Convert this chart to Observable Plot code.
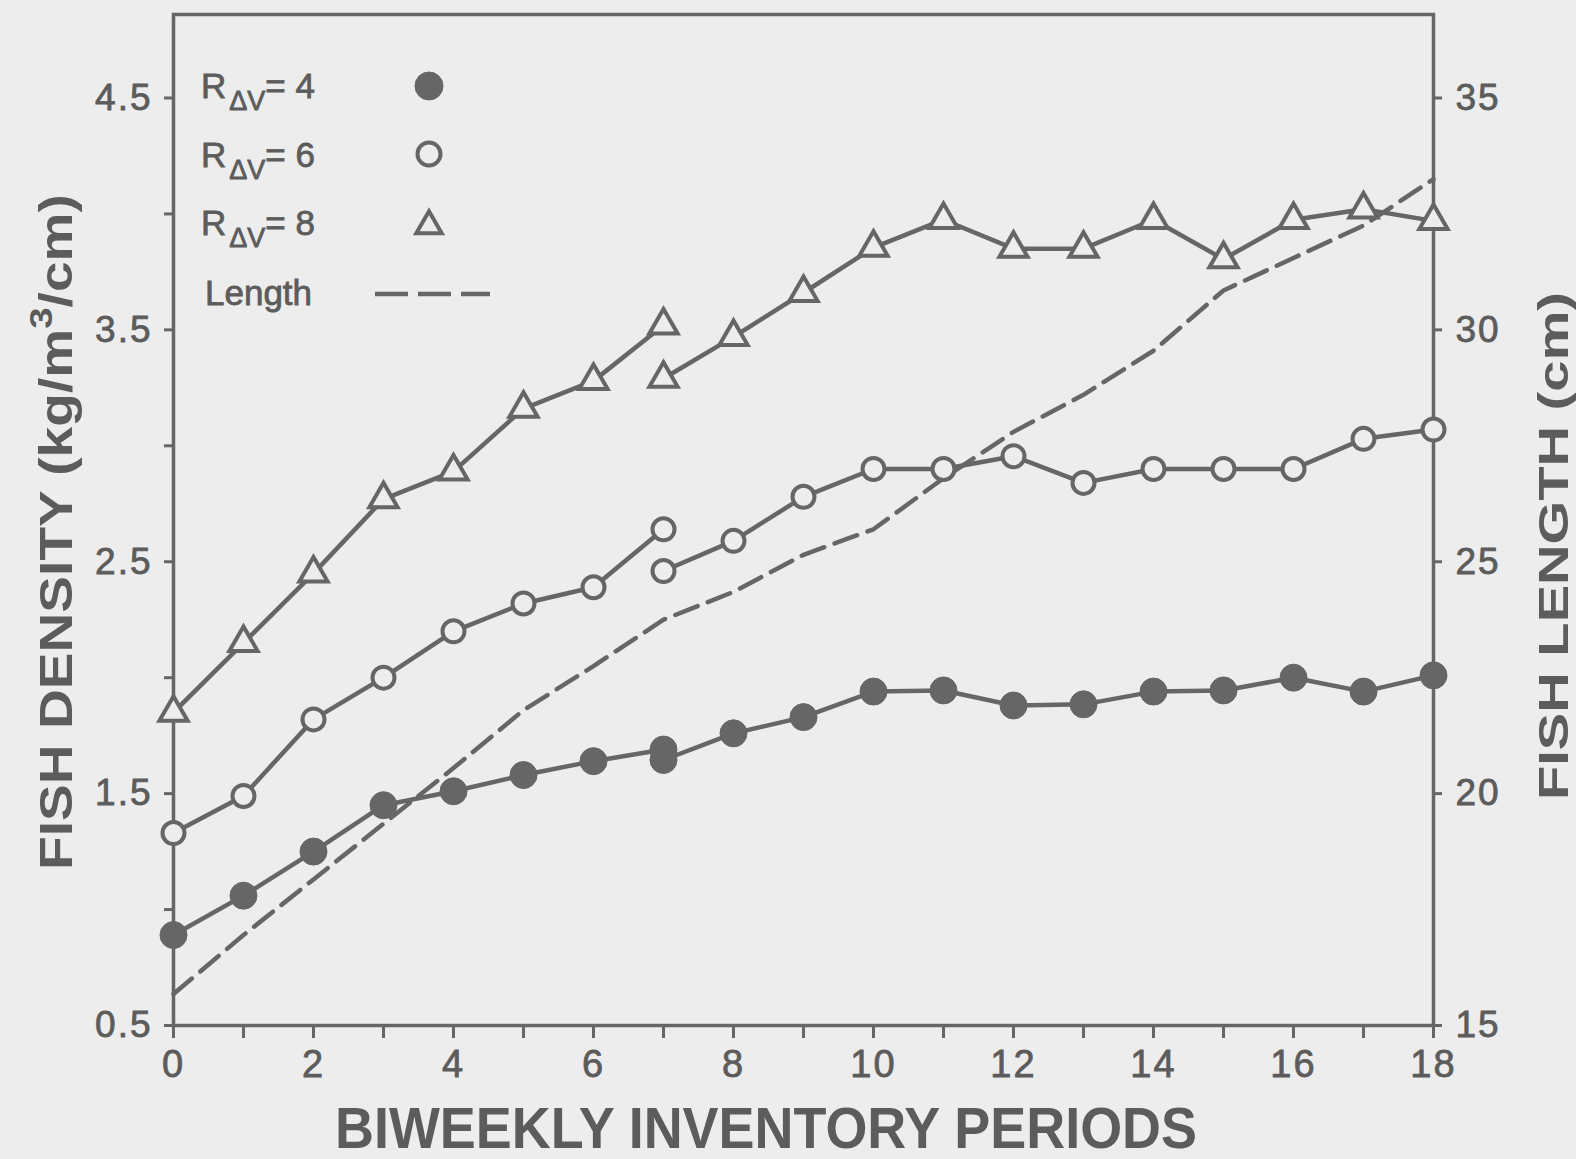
<!DOCTYPE html>
<html>
<head>
<meta charset="utf-8">
<script src="https://cdn.jsdelivr.net/npm/d3@7"></script>
<script src="https://cdn.jsdelivr.net/npm/@observablehq/plot@0.6"></script>
<style>
  html, body { margin: 0; padding: 0; background: #ededed; }
  #chart { width: 1576px; height: 1159px; position: relative; }
</style>
</head>
<body>
<div id="chart"></div>
<script>
// ---- data ----
const periodsA = [0, 1, 2, 3, 4, 5, 6, 7];
const periodsB = [7, 8, 9, 10, 11, 12, 13, 14, 15, 16, 17, 18];
const periodsAll = [0, 1, 2, 3, 4, 5, 6, 7, 8, 9, 10, 11, 12, 13, 14, 15, 16, 17, 18];

// R_ΔV = 4 (filled circles), fish density kg/m3/cm
const r4A = [0.89, 1.06, 1.25, 1.45, 1.51, 1.58, 1.64, 1.69];
const r4B = [1.645, 1.76, 1.83, 1.94, 1.945, 1.88, 1.885, 1.94, 1.945, 2.0, 1.94, 2.01];
// R_ΔV = 6 (open circles)
const r6A = [1.33, 1.49, 1.82, 2.00, 2.20, 2.32, 2.39, 2.64];
const r6B = [2.46, 2.59, 2.78, 2.90, 2.90, 2.955, 2.84, 2.90, 2.90, 2.90, 3.03, 3.07];
// R_ΔV = 8 (open triangles)
const r8A = [1.85, 2.15, 2.45, 2.77, 2.89, 3.16, 3.28, 3.52];
const r8B = [3.29, 3.47, 3.66, 3.855, 3.975, 3.85, 3.85, 3.975, 3.805, 3.975, 4.02, 3.97];
// Fish length (cm), right axis
const lengthCm = [15.68, 16.95, 18.15, 19.35, 20.55, 21.8, 22.75, 23.75, 24.35, 25.15, 25.7, 26.8, 27.8, 28.6, 29.55, 30.85, 31.55, 32.25, 33.25];

const leftTicks = [0.5, 1, 1.5, 2, 2.5, 3, 3.5, 4, 4.5];
const leftLabels = ["0.5", "", "1.5", "", "2.5", "", "3.5", "", "4.5"];
const rightTickLabels = [15, 20, 25, 30, 35];
const xTicks = [0, 1, 2, 3, 4, 5, 6, 7, 8, 9, 10, 11, 12, 13, 14, 15, 16, 17, 18];

const legendLabels = ["4", "6", "8"];

// ---- helpers ----
const ink = "#666666";
const textInk = "#5c5c5c";
const bg = "#ededed";
const toDensity = L => 0.5 + (L - rightTickLabels[0]) / 5; // 15 cm ↔ 0.5, 35 cm ↔ 4.5
const rightTicks = rightTickLabels.map(toDensity);

const seg = (xs, ys) => xs.map((x, i) => ({x, y: ys[i]}));
const s4A = seg(periodsA, r4A), s4B = seg(periodsB, r4B);
const s6A = seg(periodsA, r6A), s6B = seg(periodsB, r6B);
const s8A = seg(periodsA, r8A), s8B = seg(periodsB, r8B);
const lenRows = periodsAll.map((x, i) => ({x, L: lengthCm[i]}));

const W = 1576, H = 1159;

const svg = Plot.plot({
  width: W,
  height: H,
  marginLeft: 173,
  marginRight: 143,
  marginTop: 14,
  marginBottom: 134,
  style: {background: bg, color: ink, fontFamily: "'Liberation Sans', Arial, sans-serif"},
  x: {domain: [0, 18], axis: null},
  y: {domain: [0.5, 4.86], axis: null},
  marks: [
    Plot.axisX({ticks: xTicks, tickFormat: d => (d % 2 === 0 ? String(d) : ""), tickSize: 13, tickPadding: 12, fontSize: 38, stroke: ink, strokeWidth: 3, label: null}),
    Plot.axisY({anchor: "left", ticks: leftTicks, tickFormat: d => leftLabels[leftTicks.indexOf(d)], tickSize: 9, tickPadding: 12, fontSize: 37, stroke: ink, strokeWidth: 3, label: null}),
    Plot.axisY({anchor: "right", ticks: rightTicks, tickFormat: d => String(rightTickLabels[rightTicks.indexOf(d)]), tickSize: 8, tickPadding: 14, fontSize: 37, stroke: ink, strokeWidth: 3, label: null}),
    Plot.frame({stroke: ink, strokeWidth: 3.5}),
    Plot.line(lenRows, {x: "x", y: d => toDensity(d.L), stroke: ink, strokeWidth: 4.5, strokeDasharray: "24,11"}),
    Plot.line(s4A, {x: "x", y: "y", stroke: ink, strokeWidth: 4.5}),
    Plot.line(s4B, {x: "x", y: "y", stroke: ink, strokeWidth: 4.5}),
    Plot.line(s6A, {x: "x", y: "y", stroke: ink, strokeWidth: 4.5}),
    Plot.line(s6B, {x: "x", y: "y", stroke: ink, strokeWidth: 4.5}),
    Plot.line(s8A, {x: "x", y: "y", stroke: ink, strokeWidth: 4.5}),
    Plot.line(s8B, {x: "x", y: "y", stroke: ink, strokeWidth: 4.5}),
    Plot.dot(s4A.concat(s4B), {x: "x", y: "y", r: 13.5, fill: ink, stroke: ink, strokeWidth: 1}),
    Plot.dot(s6A.concat(s6B), {x: "x", y: "y", r: 11, fill: bg, stroke: ink, strokeWidth: 4}),
    Plot.dot(s8A.concat(s8B), {x: "x", y: "y", symbol: "triangle", r: 10.5, fill: bg, stroke: ink, strokeWidth: 4})
  ]
});

const root = d3.select(svg);
// tick label styling (slightly heavier, letter-spaced like the scan)
root.selectAll("text")
  .attr("fill", textInk)
  .attr("stroke", textInk)
  .attr("stroke-width", 0.8)
  .style("letter-spacing", "2px");

const font = "'Liberation Sans', Arial, sans-serif";

// Left axis title
const lt = root.append("text")
  .attr("transform", "translate(72,532) rotate(-90)")
  .attr("text-anchor", "middle")
  .attr("font-family", font)
  .attr("font-weight", "bold")
  .attr("font-size", 46)
  .attr("fill", textInk)
  .attr("textLength", 676)
  .attr("lengthAdjust", "spacingAndGlyphs");
lt.append("tspan").text("FISH DENSITY (kg/m");
lt.append("tspan").attr("dy", -20).attr("font-size", 32).text("3");
lt.append("tspan").attr("dy", 20).text("/cm)");

// Right axis title
root.append("text")
  .attr("transform", "translate(1568,546) rotate(-90)")
  .attr("text-anchor", "middle")
  .attr("font-family", font)
  .attr("font-weight", "bold")
  .attr("font-size", 42)
  .attr("fill", textInk)
  .attr("textLength", 508)
  .attr("lengthAdjust", "spacingAndGlyphs")
  .text("FISH LENGTH (cm)");

// Bottom axis title
root.append("text")
  .attr("x", 335)
  .attr("y", 1148)
  .attr("text-anchor", "start")
  .attr("font-family", font)
  .attr("font-weight", "bold")
  .attr("font-size", 58)
  .attr("fill", textInk)
  .attr("textLength", 862)
  .attr("lengthAdjust", "spacingAndGlyphs")
  .text("BIWEEKLY INVENTORY PERIODS");

// Legend
const lg = root.append("g")
  .attr("font-family", font)
  .attr("text-anchor", "start")
  .attr("fill", textInk)
  .attr("stroke", textInk)
  .attr("stroke-width", 0.8);
const rowBase = [98, 167, 235];
legendLabels.forEach((lab, i) => {
  const t = lg.append("text").attr("x", 201).attr("y", rowBase[i]).attr("font-size", 35);
  t.append("tspan").text("R");
  t.append("tspan").attr("dy", 12).attr("dx", 3).attr("font-size", 27).text("ΔV");
  t.append("tspan").attr("dy", -12).text("= " + lab);
});
lg.append("text").attr("x", 205).attr("y", 305).attr("font-size", 35).text("Length");
// legend symbols
lg.append("circle").attr("cx", 429).attr("cy", 86).attr("r", 14).attr("fill", ink).attr("stroke", ink).attr("stroke-width", 1);
lg.append("circle").attr("cx", 429).attr("cy", 154).attr("r", 11.5).attr("fill", bg).attr("stroke", ink).attr("stroke-width", 4);
lg.append("path").attr("transform", "translate(429,226)").attr("d", d3.symbol(d3.symbolTriangle, 280)()).attr("fill", bg).attr("stroke", ink).attr("stroke-width", 4);
lg.append("line").attr("x1", 375).attr("x2", 490).attr("y1", 294).attr("y2", 294).attr("stroke", ink).attr("stroke-width", 4.5).attr("stroke-dasharray", "33,10");

document.getElementById("chart").appendChild(svg);
</script>
</body>
</html>
